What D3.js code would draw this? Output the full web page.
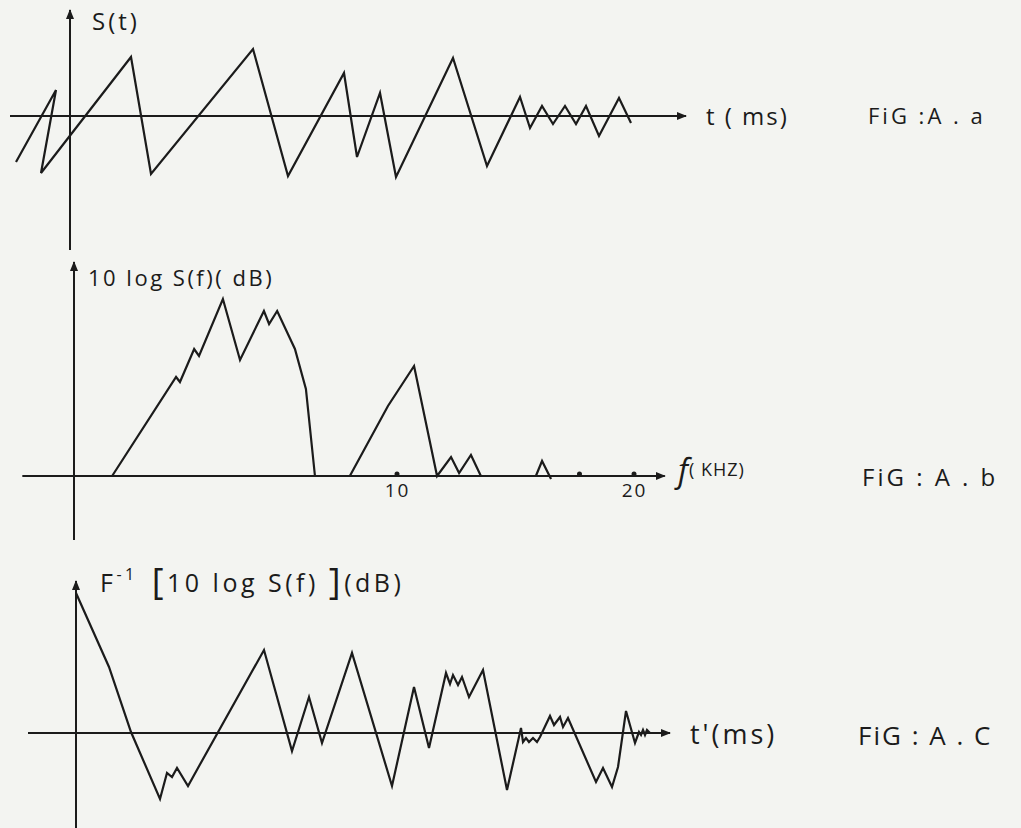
<!DOCTYPE html>
<html>
<head>
<meta charset="utf-8">
<script src="https://cdn.jsdelivr.net/npm/d3@7"></script>
<style>
  html, body { margin: 0; padding: 0; background: #f3f4f1; }
  svg text { font-family: "Open Sans", "DejaVu Sans", sans-serif; fill: #1b1b1b; font-weight: 500; }
</style>
</head>
<body>
<div id="chart"></div>
<script>
var svgWidth = 1021;
var svgHeight = 828;

// FIG A.a : s(t), t in ms (arbitrary hand-drawn units)
var aT = [-5.4, -1.4, -2.9, 6.1, 8.1, 18.3, 21.8, 27.4, 28.7, 31.0, 32.6, 38.3, 41.7,
          45.0, 46.0, 47.2, 48.3, 49.5, 50.6, 51.6, 52.9, 54.9, 56.1];
var aS = [-4.6, 2.6, -5.7, 5.9, -5.8, 6.7, -6.0, 4.3, -4.1, 2.3, -6.1, 5.8, -5.0,
          1.9, -1.2, 1.0, -0.8, 1.0, -0.8, 1.0, -2.0, 1.8, -0.7];

// FIG A.b : 10 log S(f) (dB) vs f (kHz), three separate pieces
var bF1 = [1.18, 3.16, 3.28, 3.72, 3.87, 4.61, 5.14, 5.88, 6.04, 6.29, 6.84, 7.18, 7.46];
var bDB1 = [0, 9.9, 9.4, 12.7, 12.0, 17.7, 11.6, 16.5, 15.2, 16.5, 12.7, 8.7, 0];
var bF2 = [8.54, 9.72, 10.72, 11.69, 12.28, 12.62, 13.12, 13.54];
var bDB2 = [0, 7.0, 11.0, 0, 1.9, 0.3, 2.1, 0];
var bF3 = [15.86, 16.12, 16.5];
var bDB3 = [0, 1.5, -0.3];
var bTicks = [10, 20];
var bDots = [10, 17.7, 20];

// FIG A.c : F^-1[10 log S(f)] (dB) vs t' (ms)
var cT = [0, 3.3, 5.5, 8.4, 9.1, 9.6, 10.1, 11.2, 12.2, 18.8, 21.6, 23.3, 24.6, 27.6, 31.6,
          33.8, 35.3, 37.0, 37.4, 37.7, 38.2, 38.6, 39.3, 40.7, 43.1, 44.5, 44.7, 45.0, 45.3,
          45.7, 46.1, 46.4, 47.4, 47.8, 48.4, 48.7, 49.2, 52.0, 52.7, 53.6, 54.2, 55.0, 55.9,
          56.3, 56.5, 56.7, 56.9, 57.1, 57.4];
var cV = [14.0, 6.6, 0.1, -6.6, -4.0, -4.4, -3.5, -5.3, -3.5, 8.3, -1.8, 3.6, -1.0, 8.0, -5.3,
          4.6, -1.5, 6.0, 4.9, 5.8, 4.8, 5.6, 3.6, 6.3, -5.7, 0.5, -0.9, -0.5, -0.9,
          -0.5, -0.9, -0.4, 1.7, 0.8, 1.6, 0.6, 1.5, -4.9, -3.5, -5.4, -3.4, 2.2, -1.0,
          0.1, -0.2, 0.3, -0.2, 0.3, 0];

var ink = "#1b1b1b";

var svg = d3.select("#chart")
  .append("svg")
  .attr("width", svgWidth)
  .attr("height", svgHeight);

svg.append("rect").attr("width", svgWidth).attr("height", svgHeight).attr("fill", "#f3f4f1");

svg.append("defs").append("marker")
  .attr("id", "arrow")
  .attr("viewBox", "0 0 10 10")
  .attr("refX", 9).attr("refY", 5)
  .attr("markerWidth", 5).attr("markerHeight", 5)
  .attr("markerUnits", "strokeWidth")
  .attr("orient", "auto")
  .append("path")
  .attr("d", "M0,1 L10,5 L0,9 Z")
  .attr("fill", ink);

function zip(xs, ys) { return xs.map((x, i) => [x, ys[i]]); }

function drawAxes(x, y, xMin, xMax, yMin, yMax) {
  svg.append("line")
    .attr("x1", x(xMin)).attr("x2", x(xMax))
    .attr("y1", y(0)).attr("y2", y(0))
    .attr("stroke", ink).attr("stroke-width", 2)
    .attr("marker-end", "url(#arrow)");
  svg.append("line")
    .attr("x1", x(0)).attr("x2", x(0))
    .attr("y1", y(yMin)).attr("y2", y(yMax))
    .attr("stroke", ink).attr("stroke-width", 2)
    .attr("marker-end", "url(#arrow)");
}

function drawCurve(x, y, pts) {
  var line = d3.line().x(d => x(d[0])).y(d => y(d[1]));
  svg.append("path")
    .datum(pts)
    .attr("d", line)
    .attr("fill", "none")
    .attr("stroke", ink)
    .attr("stroke-width", 2.2)
    .attr("stroke-linejoin", "miter");
}

function label(x, y, size, spacing, txt) {
  return svg.append("text")
    .attr("x", x).attr("y", y)
    .attr("font-size", size)
    .attr("letter-spacing", spacing)
    .text(txt);
}

// ---- panel a
var xA = d3.scaleLinear().domain([0, 10]).range([70, 170]);
var yA = d3.scaleLinear().domain([0, 10]).range([116, 16]);
drawAxes(xA, yA, -6, 61.6, -13.4, 10.6);
drawCurve(xA, yA, zip(aT, aS));

label(92, 30, 24, 3, "S(t)");
label(706, 125, 24, 2, "t ( ms)");
label(868, 124, 22, 3, "FiG :A . a");

// ---- panel b (hand drawn axis, so the f scale is not uniform)
var xB = d3.scaleLinear().domain([0, 10, 20]).range([74, 397, 634]);
var yB = d3.scaleLinear().domain([0, 10]).range([476, 376]);
drawAxes(xB, yB, -1.6, 21.3, -6.4, 21.4);
drawCurve(xB, yB, zip(bF1, bDB1));
drawCurve(xB, yB, zip(bF2, bDB2));
drawCurve(xB, yB, zip(bF3, bDB3));

svg.selectAll(".bdot")
  .data(bDots)
  .enter().append("circle")
  .attr("class", "bdot")
  .attr("cx", d => xB(d)).attr("cy", yB(0) - 2)
  .attr("r", 2.5).attr("fill", ink);

var bAxis = svg.append("g")
  .attr("transform", `translate(0, ${yB(0)})`)
  .call(d3.axisBottom(xB).tickValues(bTicks).tickSize(0).tickPadding(8));
bAxis.select(".domain").remove();
bAxis.selectAll("text")
  .attr("font-size", 19)
  .attr("letter-spacing", 2)
  .attr("font-family", "Open Sans, DejaVu Sans, sans-serif")
  .attr("fill", ink);

label(88, 286, 22, 2.5, "10 log S(f)( dB)");
var fLab = svg.append("text").attr("x", 678).attr("y", 482).attr("letter-spacing", 1);
fLab.append("tspan").attr("font-size", 32).attr("font-style", "italic").text("f");
fLab.append("tspan").attr("font-size", 18).attr("dy", -6).text("( KHZ)");
label(862, 486, 24, 3, "FiG : A . b");

// ---- panel c
var xC = d3.scaleLinear().domain([0, 10]).range([76, 176]);
var yC = d3.scaleLinear().domain([0, 10]).range([733, 633]);
drawAxes(xC, yC, -4.8, 59.4, -10, 15.2);
drawCurve(xC, yC, zip(cT, cV));

var cLab = svg.append("text").attr("x", 100).attr("y", 592).attr("font-size", 25).attr("letter-spacing", 3.5);
cLab.append("tspan").text("F");
cLab.append("tspan").attr("font-size", 16).attr("dy", -12).text("-1");
cLab.append("tspan").attr("dy", 14).attr("dx", 14).attr("font-size", 36).text("[");
cLab.append("tspan").attr("dy", -2).text("10 log S(f) ");
cLab.append("tspan").attr("dy", 2).attr("font-size", 36).text("]");
cLab.append("tspan").attr("dy", -2).text("(dB)");

label(690, 744, 27, 3, "t'(ms)");
label(858, 745, 26, 2, "FiG : A . C");
</script>
</body>
</html>
